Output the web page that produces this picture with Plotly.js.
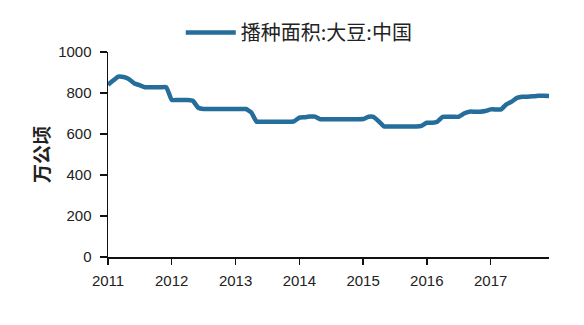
<!DOCTYPE html>
<html>
<head>
<meta charset="utf-8">
<script src="https://cdn.plot.ly/plotly-3.0.1.min.js"></script>
<style>html,body{margin:0;padding:0;background:#fff;}#chart{width:584px;height:325px;}</style>
</head>
<body>
<div id="chart"></div>
<script>
const seriesName = '播种面积:大豆:中国';
const yTitle = '万公顷';
const months = [];
for (let y = 2011; y <= 2017; y++) {
  for (let m = 1; m <= 12; m++) months.push(y + '-' + String(m).padStart(2, '0') + '-01');
}
const area2011 = [840, 862, 880, 878, 868, 846, 838, 828, 828, 828, 828, 828];
const area2012 = [766, 766, 766, 766, 762, 728, 722, 722, 722, 722, 722, 722];
const area2013 = [722, 722, 722, 705, 660, 660, 660, 660, 660, 660, 660, 662];
const area2014 = [680, 682, 685, 685, 672, 672, 672, 672, 672, 672, 672, 672];
const area2015 = [673, 684, 684, 662, 637, 637, 637, 637, 637, 637, 637, 640];
const area2016 = [655, 655, 660, 684, 684, 684, 684, 700, 709, 709, 709, 712];
const area2017 = [720, 720, 720, 745, 758, 776, 782, 782, 784, 786, 786, 785];
const values = [].concat(area2011, area2012, area2013, area2014, area2015, area2016, area2017);

const trace = {
  x: months, y: values, type: 'scatter', mode: 'lines', name: seriesName,
  line: {color: '#256d9a', width: 4.5, shape: 'spline', smoothing: 0.4}
};
const layout = {
  width: 584, height: 325,
  margin: {l: 108, r: 35, t: 52, b: 68},
  paper_bgcolor: '#fff', plot_bgcolor: '#fff',
  showlegend: true,
  legend: {orientation: 'h', x: 0.165, y: 1.0, xanchor: 'left', yanchor: 'bottom', itemwidth: 50,
           font: {family: 'Noto Sans CJK SC', size: 20, color: '#222'}, bgcolor: 'rgba(0,0,0,0)'},
  xaxis: {
    type: 'date', range: ['2011-01-01', '2017-12-01'],
    dtick: 'M12', tick0: '2011-01-01', tickformat: '%Y',
    showgrid: false, zeroline: false, showline: true, linecolor: '#111', linewidth: 1.5,
    ticks: 'outside', ticklen: 6, tickwidth: 1.5, tickcolor: '#111', ticklabelstandoff: 3,
    tickfont: {family: 'Liberation Sans, Arial', size: 15, color: '#222'}
  },
  yaxis: {
    range: [0, 1000], dtick: 200, tick0: 0,
    showgrid: false, zeroline: false, showline: true, linecolor: '#111', linewidth: 1.5,
    ticks: 'outside', ticklen: 7, tickwidth: 1.5, tickcolor: '#111', ticklabelstandoff: 5,
    tickfont: {family: 'Liberation Sans, Arial', size: 15, color: '#222'},
    title: {text: '<b>' + yTitle + '</b>', standoff: 3, font: {family: 'Noto Sans CJK SC', size: 19, color: '#222'}}
  }
};
Plotly.newPlot('chart', [trace], layout, {displayModeBar: false, staticPlot: true});
</script>
</body>
</html>
